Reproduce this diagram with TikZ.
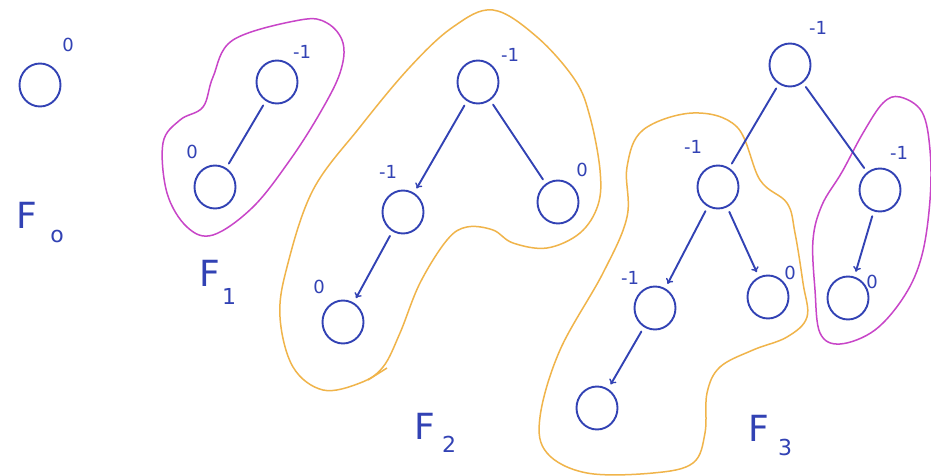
\documentclass[tikz,border=0pt]{standalone}
\usepackage{fontspec}
\setmainfont{DejaVu Sans}
\usetikzlibrary{arrows.meta,shapes.geometric}
\definecolor{pen}{HTML}{3242B4}
\definecolor{orng}{HTML}{F0B44A}
\definecolor{mgnt}{HTML}{C845C8}
\tikzset{
  nd/.style={ellipse,draw=pen,line width=1.9pt,minimum width=41pt,minimum height=43pt,inner sep=0pt},
  bal/.style={text=pen,font=\fontsize{18}{18}\selectfont,inner sep=0pt},
  edg/.style={draw=pen,line width=1.9pt,line cap=round,shorten <=5pt,shorten >=5pt},
  arr/.style={edg,-{To[length=5pt,width=8pt,line width=1.4pt]}},
  ttl/.style={text=pen,font=\fontsize{36}{36}\selectfont,inner sep=0pt},
  sub/.style={text=pen,font=\fontsize{22}{22}\selectfont,inner sep=0pt},
  hullO/.style={draw=orng,line width=1.5pt},
  hullM/.style={draw=mgnt,line width=1.5pt}
}
\begin{document}
\begin{tikzpicture}[x=1pt,y=-1pt]
\useasboundingbox[fill=white] (0,0) rectangle (931,476);
% ---------- F0
\node[nd] (a0) at (40,85) {};
\node[bal] (la0) at (68,45) {0};
\node[ttl] (t0) at (27,215) {F};
\node[sub] (s0) at (57,236) {o};
% ---------- F1
\draw[hullM] plot[smooth cycle,tension=0.6] coordinates {(233,40) (300,20) (327,23) (343,43) (340,73) (320,113) (290,160) (253,207) (213,235) (187,227) (167,193) (163,143) (180,120) (203,107) (213,77)};
\node[nd] (b1) at (277,82) {};
\node[bal] (lb1) at (302,52) {-1};
\node[nd] (b2) at (215,187) {};
\node[bal] (lb2) at (192,152) {0};
\draw[edg] (b1) -- (b2);
\node[ttl] (t1) at (210,273) {F};
\node[sub] (s1) at (229,296) {1};
% ---------- F2
\draw[hullO] plot[smooth cycle,tension=0.6] coordinates {(493,10) (537,37) (575,80) (590,117) (600,170) (598,205) (580,233) (547,248) (513,243) (493,230) (467,227) (447,240) (420,283) (400,333) (383,367) (360,383) (323,390) (293,367) (280,317) (287,267) (313,190) (360,127) (410,67) (453,27)};
\coordinate (tailA) at (387,368);
\coordinate (tailB) at (368,380);
\draw[hullO] (tailA) -- (tailB);
\node[nd] (c1) at (478,82) {};
\node[bal] (lc1) at (510,55) {-1};
\node[nd] (c2) at (403,212) {};
\node[bal] (lc2) at (388,172) {-1};
\node[nd] (c3) at (558,202) {};
\node[bal] (lc3) at (582,170) {0};
\node[nd] (c4) at (343,322) {};
\node[bal] (lc4) at (319,287) {0};
\draw[arr] (c1) -- (c2);
\draw[edg] (c1) -- (c3);
\draw[arr] (c2) -- (c4);
\node[ttl] (t2) at (425,426) {F};
\node[sub] (s2) at (449,444) {2};
% ---------- F3
\draw[hullO] plot[smooth cycle,tension=0.6] coordinates {(693,113) (737,127) (760,180) (787,203) (795,233) (803,283) (807,317) (787,337) (753,350) (720,367) (707,393) (705,433) (693,463) (653,473) (587,473) (547,453) (540,417) (560,350) (603,273) (627,217) (627,167) (643,130)};
\draw[hullM] plot[smooth cycle,tension=0.6] coordinates {(900,97) (922,112) (930,150) (930,200) (922,255) (905,295) (875,330) (840,344) (820,333) (815,290) (813,240) (822,205) (842,172) (863,133) (883,103)};
\node[nd] (d1) at (790,65) {};
\node[bal] (ld1) at (818,28) {-1};
\node[nd] (d2) at (718,187) {};
\node[bal] (ld2) at (693,147) {-1};
\node[nd] (d3) at (880,190) {};
\node[bal] (ld3) at (899,153) {-1};
\node[nd] (d4) at (655,308) {};
\node[bal] (ld4) at (630,278) {-1};
\node[nd] (d5) at (768,297) {};
\node[bal] (ld5) at (790,273) {0};
\node[nd] (d6) at (848,298) {};
\node[bal] (ld6) at (872,282) {0};
\node[nd] (d7) at (597,408) {};
\draw[edg] (d1) -- (d2);
\draw[edg] (d1) -- (d3);
\draw[arr] (d2) -- (d4);
\draw[arr] (d2) -- (d5);
\draw[arr] (d4) -- (d7);
\draw[arr] (d3) -- (d6);
\node[ttl] (t3) at (759,428) {F};
\node[sub] (s3) at (785,447) {3};
\end{tikzpicture}
\end{document}
